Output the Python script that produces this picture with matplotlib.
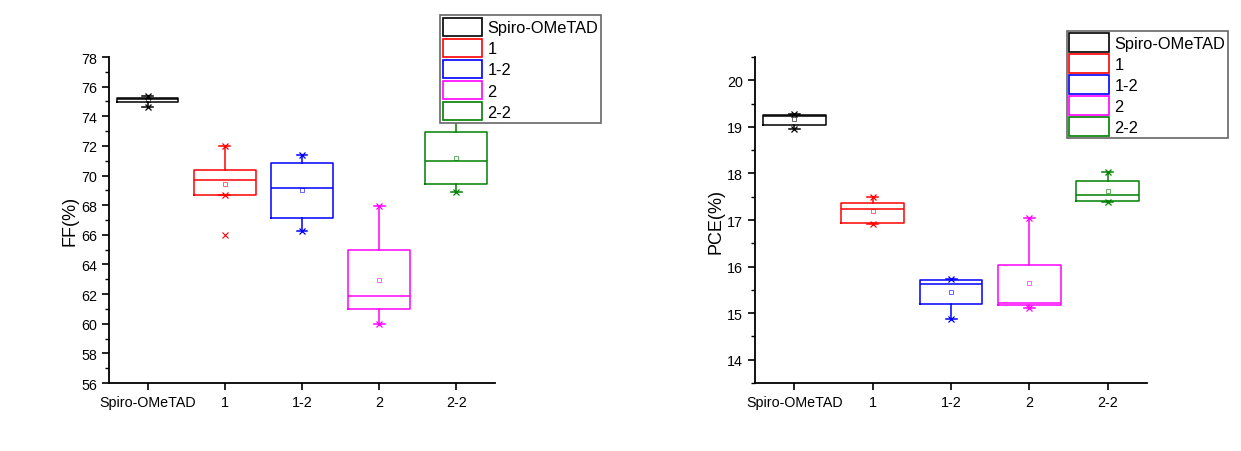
import matplotlib
matplotlib.use('Agg')
import matplotlib.pyplot as plt
from matplotlib.patches import Patch
from matplotlib.ticker import MultipleLocator

plt.rcParams['font.family'] = ['Liberation Sans', 'DejaVu Sans']

groups = ['Spiro-OMeTAD', '1', '1-2', '2', '2-2']
colors = ['#000000', '#ff0000', '#0000ff', '#ff00ff', '#008000']

# FF(%) box statistics
ff_q1 = [74.96, 68.68, 67.12, 60.98, 69.40]
ff_med = [75.20, 69.67, 69.17, 61.90, 70.97]
ff_q3 = [75.26, 70.35, 70.88, 64.97, 72.96]
ff_lo = [74.60, 68.68, 66.25, 59.97, 68.88]
ff_hi = [75.40, 71.97, 71.36, 67.98, 73.95]
ff_mean = [75.12, 69.42, 69.02, 62.98, 71.20]
ff_out = [[], [65.98], [], [], []]

# PCE(%) box statistics
pce_q1 = [19.04, 16.93, 15.20, 15.17, 17.41]
pce_med = [19.23, 17.24, 15.63, 15.22, 17.54]
pce_q3 = [19.25, 17.37, 15.71, 16.03, 17.84]
pce_lo = [18.95, 16.92, 14.87, 15.12, 17.39]
pce_hi = [19.27, 17.50, 15.74, 17.05, 18.04]
pce_mean = [19.16, 17.20, 15.45, 15.64, 17.62]
pce_out = [[], [], [], [], []]


def draw_panel(ax, q1, med, q3, lo, hi, mean, out, ylabel, ylim, major, minor):
    for i in range(len(groups)):
        st = [{'q1': q1[i], 'med': med[i], 'q3': q3[i], 'whislo': lo[i],
               'whishi': hi[i], 'mean': mean[i], 'fliers': out[i]}]
        c = colors[i]
        ax.bxp(st, positions=[i + 1], widths=0.8, showmeans=True,
               boxprops=dict(color=c, linewidth=1.1),
               medianprops=dict(color=c, linewidth=1.1),
               whiskerprops=dict(color=c, linewidth=1.1),
               capprops=dict(color=c, linewidth=1.1),
               capwidths=0.14,
               meanprops=dict(marker='s', markersize=3, markerfacecolor='none',
                              markeredgecolor=c, markeredgewidth=0.6, alpha=0.7),
               flierprops=dict(marker='x', markersize=5, markeredgecolor=c,
                               markeredgewidth=0.8))
        ax.plot([i + 1, i + 1], [lo[i], hi[i]], linestyle='none', marker='x',
                markersize=5, color=c, markeredgewidth=0.9)
    ax.set_xlim(0.5, 5.5)
    ax.set_ylim(*ylim)
    ax.set_xticks(range(1, 6))
    ax.set_xticklabels(groups)
    ax.yaxis.set_major_locator(MultipleLocator(major))
    ax.yaxis.set_minor_locator(MultipleLocator(minor))
    ax.spines['top'].set_visible(False)
    ax.spines['right'].set_visible(False)
    ax.spines['left'].set_linewidth(1.3)
    ax.spines['bottom'].set_linewidth(1.3)
    ax.tick_params(axis='both', which='major', direction='out', length=5,
                   width=1.2, labelsize=10.3)
    ax.tick_params(axis='y', which='minor', direction='out', length=3, width=1)
    ax.set_ylabel(ylabel, fontsize=13, labelpad=2)


fig = plt.figure(figsize=(12.41, 4.52), dpi=100)
ax1 = fig.add_axes([0.0878, 0.1504, 0.311, 0.7212])
ax2 = fig.add_axes([0.6084, 0.1504, 0.3159, 0.7212])

draw_panel(ax1, ff_q1, ff_med, ff_q3, ff_lo, ff_hi, ff_mean, ff_out,
           'FF(%)', (56, 78), 2, 1)
draw_panel(ax2, pce_q1, pce_med, pce_q3, pce_lo, pce_hi, pce_mean, pce_out,
           'PCE(%)', (13.5, 20.5), 1, 0.5)

handles = [Patch(facecolor='white', edgecolor=c, linewidth=1.2) for c in colors]
for anchor in [(0.348, 0.982), (0.853, 0.948)]:
    leg = fig.legend(handles, groups, loc='upper left', bbox_to_anchor=anchor,
                     bbox_transform=fig.transFigure, fontsize=11.8,
                     handlelength=2.4, handleheight=1.35, labelspacing=0.16,
                     handletextpad=0.35, borderpad=0.15, fancybox=False,
                     framealpha=1)
    leg.get_frame().set_edgecolor('#666666')
    leg.get_frame().set_linewidth(1.2)

fig.savefig('out.png', dpi=100)
